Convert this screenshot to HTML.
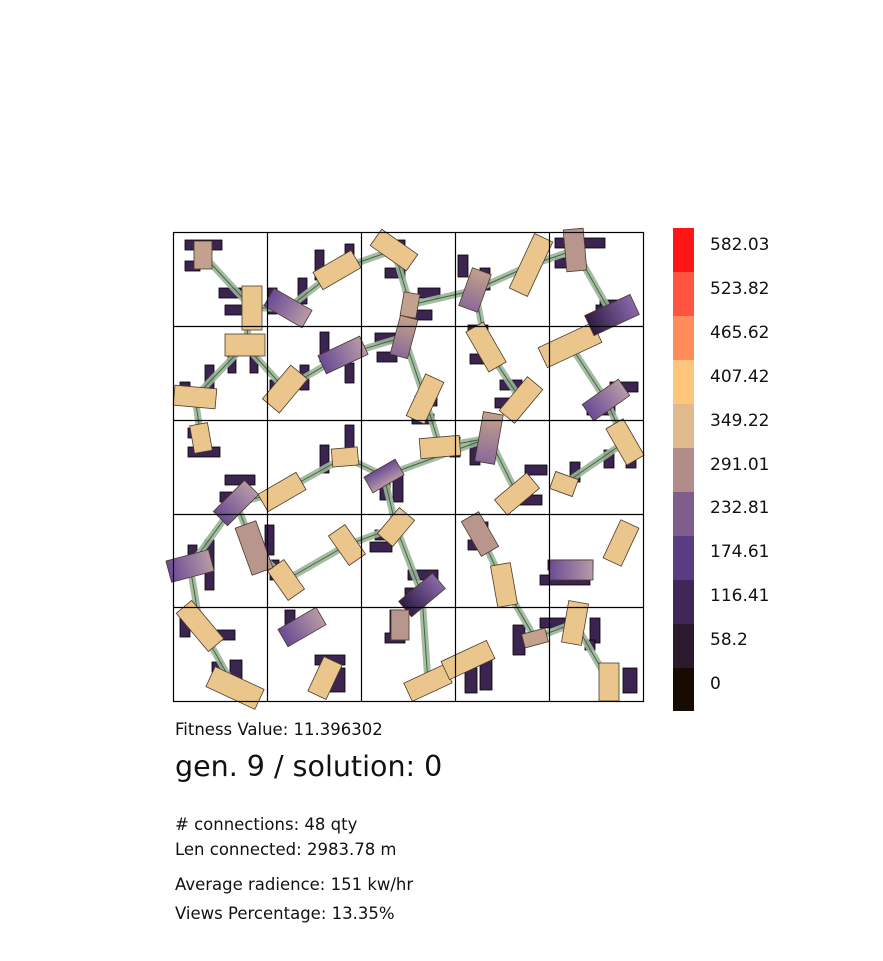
<!DOCTYPE html>
<html><head><meta charset="utf-8"><style>
body{margin:0;background:#fff;width:883px;height:961px;overflow:hidden;font-family:"DejaVu Sans","Liberation Sans",sans-serif;}
.t{position:absolute;left:175px;color:#111;font-size:16.5px;white-space:nowrap}
</style></head><body>
<svg width="883" height="961" style="position:absolute;left:0;top:0">
<defs>
<linearGradient id="pu" x1="0" x2="1"><stop offset="0" stop-color="#6a4a94"/><stop offset="1" stop-color="#b89aa8"/></linearGradient>
<linearGradient id="dp" x1="0" x2="1"><stop offset="0" stop-color="#2e1a44"/><stop offset="1" stop-color="#8a68a8"/></linearGradient>
<linearGradient id="pk" x1="0" y1="0" x2="0" y2="1"><stop offset="0" stop-color="#c4a08a"/><stop offset="1" stop-color="#8a6a9a"/></linearGradient>
</defs>
<g fill="#3c2450" stroke="#000" stroke-width="0.8">
<rect x="185" y="240" width="37" height="10"/><rect x="185" y="261" width="15" height="10"/>
<rect x="219" y="288" width="22" height="10"/><rect x="225" y="305" width="20" height="10"/>
<rect x="268" y="288" width="9" height="26"/><rect x="298" y="278" width="9" height="26"/>
<rect x="315" y="250" width="9" height="30"/><rect x="345" y="244" width="9" height="26"/>
<rect x="383" y="240" width="22" height="10"/><rect x="385" y="268" width="20" height="10"/>
<rect x="418" y="288" width="22" height="10"/><rect x="410" y="310" width="22" height="10"/>
<rect x="458" y="255" width="10" height="22"/><rect x="480" y="268" width="10" height="22"/>
<rect x="555" y="238" width="50" height="10"/><rect x="555" y="258" width="20" height="10"/>
<rect x="600" y="300" width="22" height="10"/><rect x="596" y="305" width="28" height="10"/>
<rect x="320" y="332" width="9" height="30"/><rect x="345" y="363" width="9" height="20"/>
<rect x="228" y="355" width="8" height="18"/><rect x="250" y="355" width="8" height="18"/>
<rect x="205" y="365" width="9" height="25"/><rect x="180" y="382" width="10" height="10"/>
<rect x="375" y="333" width="20" height="10"/><rect x="377" y="352" width="20" height="10"/>
<rect x="468" y="325" width="20" height="10"/><rect x="470" y="354" width="20" height="10"/>
<rect x="500" y="380" width="22" height="10"/><rect x="495" y="398" width="22" height="10"/>
<rect x="270" y="380" width="9" height="20"/><rect x="300" y="365" width="9" height="25"/>
<rect x="610" y="382" width="28" height="10"/><rect x="587" y="405" width="28" height="10"/>
<rect x="415" y="396" width="22" height="10"/><rect x="412" y="414" width="22" height="10"/>
<rect x="345" y="425" width="9" height="30"/><rect x="320" y="445" width="9" height="28"/>
<rect x="188" y="447" width="32" height="10"/><rect x="188" y="428" width="12" height="10"/>
<rect x="225" y="475" width="30" height="10"/><rect x="220" y="492" width="15" height="10"/>
<rect x="380" y="470" width="10" height="30"/><rect x="393" y="472" width="10" height="30"/>
<rect x="450" y="437" width="10" height="20"/><rect x="470" y="440" width="10" height="25"/>
<rect x="570" y="462" width="10" height="20"/><rect x="604" y="450" width="10" height="18"/><rect x="626" y="450" width="10" height="18"/>
<rect x="525" y="465" width="22" height="10"/><rect x="520" y="495" width="22" height="10"/>
<rect x="205" y="540" width="9" height="50"/><rect x="188" y="545" width="9" height="30"/>
<rect x="265" y="525" width="9" height="30"/><rect x="270" y="560" width="9" height="20"/>
<rect x="375" y="530" width="22" height="10"/><rect x="370" y="542" width="22" height="10"/>
<rect x="468" y="540" width="22" height="10"/><rect x="478" y="522" width="10" height="25"/>
<rect x="548" y="560" width="45" height="10"/><rect x="540" y="575" width="50" height="10"/>
<rect x="408" y="570" width="30" height="10"/><rect x="405" y="588" width="20" height="10"/>
<rect x="180" y="615" width="10" height="22"/><rect x="215" y="630" width="20" height="10"/>
<rect x="230" y="660" width="12" height="22"/><rect x="212" y="662" width="10" height="10"/>
<rect x="315" y="655" width="30" height="10"/><rect x="330" y="668" width="15" height="24"/>
<rect x="285" y="610" width="10" height="20"/>
<rect x="390" y="610" width="12" height="25"/><rect x="385" y="633" width="20" height="10"/>
<rect x="465" y="668" width="12" height="25"/><rect x="480" y="660" width="12" height="30"/>
<rect x="513" y="625" width="12" height="30"/><rect x="540" y="618" width="25" height="10"/>
<rect x="590" y="618" width="10" height="25"/><rect x="623" y="668" width="14" height="25"/><rect x="585" y="640" width="10" height="10"/>
</g>
<g fill="none" stroke-linejoin="round" stroke-linecap="round">
<g stroke="#9cb49a" stroke-width="7" opacity="0.9">
<polyline points="203,255 252,308 245,345 195,397 201,438"/>
<polyline points="252,308 288,308 337,270 394,250 410,305 475,290 531,265 575,250 612,315 570,345 606,400 625,442 564,484"/>
<polyline points="410,305 404,337 343,355 285,389 245,345"/>
<polyline points="404,337 425,399 440,447 489,438 517,494"/>
<polyline points="475,290 486,347 521,400"/>
<polyline points="489,438 384,476 345,457 282,492 236,503 254,548 286,580"/>
<polyline points="236,503 190,566 200,626 235,688"/>
<polyline points="384,476 396,527 347,545 286,580"/>
<polyline points="396,527 422,595 428,683 468,660"/>
<polyline points="480,534 504,585 535,638 575,623 609,682"/>
</g>
<g stroke="#3a6a3a" stroke-width="1">
<polyline points="203,255 252,308 245,345 195,397 201,438"/>
<polyline points="252,308 288,308 337,270 394,250 410,305 475,290 531,265 575,250 612,315 570,345 606,400 625,442 564,484"/>
<polyline points="410,305 404,337 343,355 285,389 245,345"/>
<polyline points="404,337 425,399 440,447 489,438 517,494"/>
<polyline points="475,290 486,347 521,400"/>
<polyline points="489,438 384,476 345,457 282,492 236,503 254,548 286,580"/>
<polyline points="236,503 190,566 200,626 235,688"/>
<polyline points="384,476 396,527 347,545 286,580"/>
<polyline points="396,527 422,595 428,683 468,660"/>
<polyline points="480,534 504,585 535,638 575,623 609,682"/>
</g>
</g>
<g stroke="#4a3a2a" stroke-width="0.8">
<g fill="#ebc68c">
<rect x="-10" y="-22" width="20" height="44" transform="translate(252,308)"/>
<rect x="-22" y="-10" width="44" height="20" transform="translate(337,270) rotate(-30)"/>
<rect x="-22" y="-10" width="44" height="20" transform="translate(394,250) rotate(35)"/>
<rect x="-10" y="-30" width="20" height="60" transform="translate(531,265) rotate(25)"/>
<rect x="-20" y="-11" width="40" height="22" transform="translate(245,345)"/>
<rect x="-21" y="-10" width="42" height="20" transform="translate(195,397) rotate(5)"/>
<rect x="-22" y="-11" width="44" height="22" transform="translate(285,389) rotate(-50)"/>
<rect x="-10" y="-23" width="20" height="46" transform="translate(425,399) rotate(25)"/>
<rect x="-10" y="-23" width="20" height="46" transform="translate(486,347) rotate(-30)"/>
<rect x="-22" y="-10" width="44" height="20" transform="translate(521,400) rotate(-50)"/>
<rect x="-30" y="-11" width="60" height="22" transform="translate(570,345) rotate(-25)"/>
<rect x="-9" y="-14" width="18" height="28" transform="translate(201,438) rotate(-10)"/>
<rect x="-22" y="-10" width="44" height="20" transform="translate(282,492) rotate(-30)"/>
<rect x="-13" y="-9" width="26" height="18" transform="translate(345,457) rotate(-5)"/>
<rect x="-20" y="-10" width="40" height="20" transform="translate(440,447) rotate(-5)"/>
<rect x="-21" y="-10" width="42" height="20" transform="translate(517,494) rotate(-40)"/>
<rect x="-12" y="-9" width="24" height="18" transform="translate(564,484) rotate(20)"/>
<rect x="-10" y="-21" width="20" height="42" transform="translate(625,442) rotate(-30)"/>
<rect x="-10" y="-18" width="20" height="36" transform="translate(286,580) rotate(-35)"/>
<rect x="-10" y="-18" width="20" height="36" transform="translate(347,545) rotate(-35)"/>
<rect x="-10" y="-17" width="20" height="34" transform="translate(396,527) rotate(40)"/>
<rect x="-10" y="-21" width="20" height="42" transform="translate(504,585) rotate(-10)"/>
<rect x="-10" y="-21" width="20" height="42" transform="translate(621,543) rotate(25)"/>
<rect x="-10" y="-25" width="20" height="50" transform="translate(200,626) rotate(-40)"/>
<rect x="-27" y="-11" width="54" height="22" transform="translate(235,688) rotate(25)"/>
<rect x="-10" y="-19" width="20" height="38" transform="translate(325,678) rotate(25)"/>
<rect x="-22" y="-10" width="44" height="20" transform="translate(428,683) rotate(-25)"/>
<rect x="-25" y="-10" width="50" height="20" transform="translate(468,660) rotate(-25)"/>
<rect x="-10" y="-21" width="20" height="42" transform="translate(575,623) rotate(10)"/>
<rect x="-10" y="-19" width="20" height="38" transform="translate(609,682)"/>
</g>
<rect x="-9" y="-14" width="18" height="28" fill="#c4a08e" transform="translate(203,255)"/>
<rect x="-22" y="-10" width="44" height="20" fill="url(#pu)" transform="translate(288,308) rotate(30)"/>
<rect x="-8" y="-12" width="16" height="24" fill="#c4a08e" transform="translate(410,305) rotate(10)"/>
<rect x="-10" y="-20" width="20" height="40" fill="url(#pk)" transform="translate(475,290) rotate(20)"/>
<rect x="-10" y="-21" width="20" height="42" fill="#b8968e" transform="translate(575,250) rotate(-5)"/>
<rect x="-25" y="-11" width="50" height="22" fill="url(#dp)" transform="translate(612,315) rotate(-25)"/>
<rect x="-23" y="-10" width="46" height="20" fill="url(#pu)" transform="translate(343,355) rotate(-25)"/>
<rect x="-9" y="-20" width="18" height="40" fill="url(#pk)" transform="translate(404,337) rotate(15)"/>
<rect x="-22" y="-10" width="44" height="20" fill="url(#pu)" transform="translate(606,400) rotate(-35)"/>
<rect x="-10" y="-25" width="20" height="50" fill="url(#pk)" transform="translate(489,438) rotate(10)"/>
<rect x="-9" y="-18" width="18" height="36" fill="url(#pu)" transform="translate(384,476) rotate(60)"/>
<rect x="-22" y="-10" width="44" height="20" fill="url(#pu)" transform="translate(236,503) rotate(-45)"/>
<rect x="-11" y="-25" width="22" height="50" fill="#b8968e" transform="translate(254,548) rotate(-20)"/>
<rect x="-22" y="-11" width="44" height="22" fill="url(#pu)" transform="translate(190,566) rotate(-15)"/>
<rect x="-10" y="-20" width="20" height="40" fill="#b8968e" transform="translate(480,534) rotate(-30)"/>
<rect x="-22" y="-10" width="44" height="20" fill="url(#pu)" transform="translate(571,570)"/>
<rect x="-22" y="-10" width="44" height="20" fill="url(#dp)" transform="translate(422,595) rotate(-40)"/>
<rect x="-22" y="-10" width="44" height="20" fill="url(#pu)" transform="translate(302,627) rotate(-30)"/>
<rect x="-9" y="-15" width="18" height="30" fill="#b8968e" transform="translate(400,625)"/>
<rect x="-12" y="-7" width="24" height="14" fill="#c4a08e" transform="translate(535,638) rotate(-15)"/>
</g>
<g stroke="#000" stroke-width="1.2" fill="none">
<rect x="173.5" y="232.5" width="470" height="469"/>
<path d="M267.5 232V701M361.5 232V701M455.5 232V701M549.5 232V701M173 326.5H643M173 420.5H643M173 514.5H643M173 607.5H643"/>
</g>
<g>
<rect x="673" y="228" width="21" height="44" fill="#ff1515"/>
<rect x="673" y="272" width="21" height="44" fill="#ff5440"/>
<rect x="673" y="316" width="21" height="44" fill="#ff8c5a"/>
<rect x="673" y="360" width="21" height="44" fill="#fec67c"/>
<rect x="673" y="404" width="21" height="44" fill="#e0b98c"/>
<rect x="673" y="448" width="21" height="44" fill="#b18c88"/>
<rect x="673" y="492" width="21" height="44" fill="#7f5e8e"/>
<rect x="673" y="536" width="21" height="44" fill="#583c84"/>
<rect x="673" y="580" width="21" height="44" fill="#3f2858"/>
<rect x="673" y="624" width="21" height="44" fill="#2a1a2c"/>
<rect x="673" y="668" width="21" height="43" fill="#160c04"/>
</g>
<g font-family="DejaVu Sans, Liberation Sans, sans-serif" font-size="17" fill="#111">
<text x="710" y="250">582.03</text><text x="710" y="294">523.82</text><text x="710" y="338">465.62</text>
<text x="710" y="382">407.42</text><text x="710" y="426">349.22</text><text x="710" y="470">291.01</text>
<text x="710" y="513">232.81</text><text x="710" y="557">174.61</text><text x="710" y="601">116.41</text>
<text x="710" y="645">58.2</text><text x="710" y="689">0</text>
</g>
</svg>
<div class="t" style="top:720px">Fitness Value: 11.396302</div>
<div class="t" style="top:750px;font-size:28.5px">gen. 9 / solution: 0</div>
<div class="t" style="top:815px">#&nbsp;connections: 48 qty</div>
<div class="t" style="top:840px">Len connected: 2983.78 m</div>
<div class="t" style="top:875px">Average radience: 151 kw/hr</div>
<div class="t" style="top:904px">Views Percentage: 13.35%</div>
</body></html>
